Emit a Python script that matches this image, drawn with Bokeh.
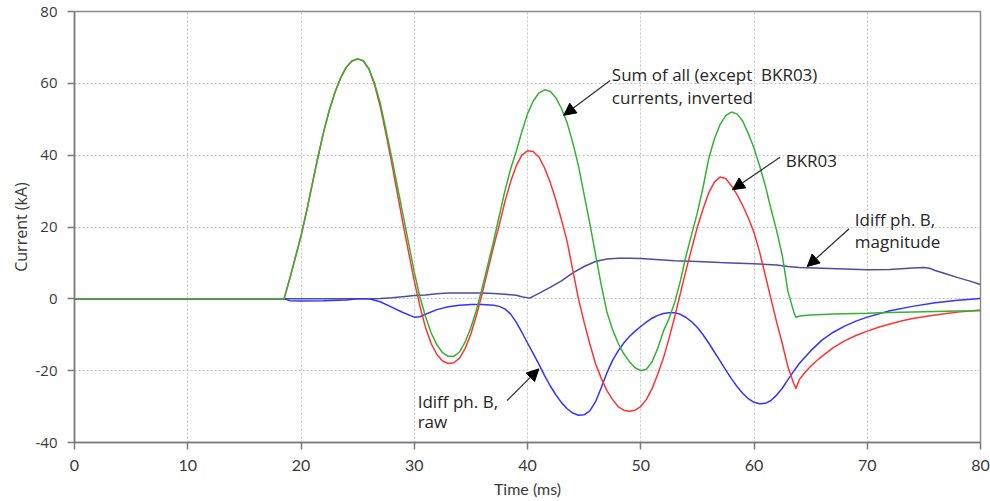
from bokeh.plotting import figure
from bokeh.models import Range1d, FixedTicker, Label, Arrow, NormalHead
from bokeh.embed import file_html
from bokeh.resources import INLINE

# ---- data ----
sum_t = [0, 18.5, 19, 19.5, 20, 20.5, 21, 21.5, 22, 22.5, 23, 23.5, 24, 24.5, 25, 25.5, 26, 26.5,
         27, 27.5, 28, 28.5, 29, 29.5, 30, 30.5, 31, 31.5, 32, 32.5, 33, 33.5, 34, 34.5, 35, 35.5,
         36, 36.5, 37, 37.5, 38, 38.5, 39, 39.5, 40, 40.5, 41, 41.5, 42, 42.5, 43, 43.5, 44, 44.5,
         45, 45.5, 46, 46.5, 47, 47.5, 48, 48.5, 49, 49.5, 50, 50.5, 51, 51.5, 52, 52.5, 53, 53.5,
         54, 54.5, 55, 55.5, 56, 56.5, 57, 57.5, 58, 58.5, 59, 59.5, 60, 60.5, 61, 61.5, 62, 62.5,
         63, 63.5, 63.7, 64, 65, 67, 70, 72, 75, 78, 80]
sum_i = [0, 0, 5.5, 11.5, 17.5, 24.5, 32, 39.5, 46.5, 52.5, 57.5, 61.5, 64.5, 66.2, 66.8, 66.3, 64, 60,
         54.5, 47, 39.5, 31.5, 23.5, 15.5, 7.5, 0.5, -5, -9.5, -12.8, -15, -16, -16, -14.8, -12, -8, -3,
         3, 9.5, 16, 23, 30, 36, 41, 46.5, 51.5, 55, 57.3, 58.2, 57.8, 56, 53, 49, 43.5, 37,
         29, 21, 12.5, 4, -3.5, -8.5, -12.3, -15.3, -17.5, -19.2, -20, -19.6, -17.5, -13.8, -9, -5.5, -1, 5,
         12, 18, 24, 31, 39, 44.5, 48.5, 51, 52, 51.5, 49.5, 46, 42, 37, 31.5, 25, 19, 12,
         2, -3.5, -5.2, -4.8, -4.5, -4.2, -4, -3.8, -3.6, -3.4, -3.3]

bkr_t = [0, 18.5, 19, 19.5, 20, 20.5, 21, 21.5, 22, 22.5, 23, 23.5, 24, 24.5, 25, 25.5, 26, 26.5,
         27, 27.5, 28, 28.5, 29, 29.5, 30, 30.5, 31, 31.5, 32, 32.5, 33, 33.5, 34, 34.5, 35, 35.5,
         36, 36.5, 37, 37.5, 38, 38.5, 39, 39.5, 40, 40.5, 41, 41.5, 42, 42.5, 43, 43.5, 44, 44.5,
         45, 45.5, 46, 46.5, 47, 47.5, 48, 48.5, 49, 49.5, 50, 50.5, 51, 51.5, 52, 52.5, 53, 53.5,
         54, 54.5, 55, 55.5, 56, 56.5, 57, 57.5, 58, 58.5, 59, 59.5, 60, 60.5, 61, 61.5, 62, 62.5,
         63, 63.5, 63.7, 64, 64.5, 65, 65.5, 66, 67, 68, 69, 70, 71, 72, 73, 74, 75, 76, 77, 78, 79, 80]
bkr_i = [0, 0, 5.5, 11.5, 17.5, 24.5, 32, 39.5, 46.5, 52.5, 57.5, 61.5, 64.5, 66.2, 66.8, 66.3, 64, 59.5,
         53.5, 46, 38, 29.5, 21, 13, 5, -2, -8, -12.5, -15.5, -17.3, -18, -17.8, -16.5, -13.8, -9.8, -4.5,
         1.5, 8, 14.5, 20.5, 27, 32.5, 37, 40, 41.2, 41, 39.5, 36.5, 32.5, 27.5, 22, 16, 8, 0,
         -6.5, -12.5, -18, -22, -25.5, -28, -30, -31, -31.3, -31, -30, -28, -25, -21, -16.5, -11, -5, 1.5,
         8, 14, 20, 25, 29.5, 32.5, 33.9, 33.5, 31.5, 29, 26, 22.5, 18.5, 13, 6.5, 0, -6.5, -12.5,
         -19, -23.5, -25, -22.5, -20.5, -18.8, -17.3, -16, -13.6, -11.7, -10.2, -9, -7.9, -7, -6.2, -5.5,
         -5, -4.5, -4.1, -3.7, -3.4, -3.1]

raw_t = [0, 18.5, 19, 20, 22, 24, 25, 26, 27, 28, 29, 30, 30.5, 31, 32, 33, 34, 35, 36, 37, 37.5,
         38, 38.5, 39, 39.5, 40, 40.5, 41, 41.5, 42, 42.5, 43, 43.5, 44, 44.5, 45, 45.5, 46, 46.5,
         47, 47.5, 48, 48.5, 49, 49.5, 50, 50.5, 51, 51.5, 52, 52.5, 53, 53.5, 54, 54.5, 55, 55.5,
         56, 56.5, 57, 57.5, 58, 58.5, 59, 59.5, 60, 60.5, 61, 61.5, 62, 62.5, 63, 63.5, 64, 65,
         66, 67, 68, 69, 70, 72, 74, 76, 78, 80]
raw_i = [0, 0, -0.5, -0.6, -0.5, -0.3, 0, 0, -0.8, -2.3, -3.8, -5.1, -5.0, -4.3, -3.0, -2.2, -1.8, -1.6,
         -1.6, -1.8, -2.1, -2.8, -4.2, -6.5, -9.3, -12.3, -15.2, -18.2, -21.3, -24.2, -26.7, -28.9, -30.6,
         -31.8, -32.4, -32.3, -31.2, -28.7, -24.8, -20.7, -17.2, -14.5, -12.3, -10.5, -9, -7.7, -6.5, -5.4,
         -4.6, -4.1, -3.9, -3.9, -4.3, -5.2, -6.4, -8, -10, -12.3, -14.8, -17.3, -19.8, -22.2, -24.4,
         -26.3, -27.8, -28.8, -29.2, -29.1, -28.3, -26.8, -24.9, -22.5, -20.2, -18, -14.5, -11.5, -9.3,
         -7.6, -6.2, -5.1, -3.3, -2.1, -1.1, -0.4, 0.1]

mag_t = [0, 26, 27, 28, 29, 30, 31, 32, 33, 34, 35, 36, 37, 38, 39, 39.5, 40.2, 41, 42, 43, 44, 45,
         46, 47, 48, 49, 50, 51, 52, 53, 55, 57, 58, 60, 62, 63, 64, 66, 68, 70, 72, 73, 74, 75, 75.5,
         76, 77, 78, 79, 80]
mag_i = [0, 0, 0.1, 0.3, 0.6, 0.9, 1.1, 1.4, 1.6, 1.6, 1.6, 1.6, 1.5, 1.3, 1.0, 0.6, 0.2, 1.5, 3.2,
         5.0, 7.2, 9.0, 10.4, 11.1, 11.3, 11.3, 11.2, 11.0, 10.8, 10.6, 10.4, 10.1, 10.0, 9.8, 9.4, 9.0,
         8.7, 8.5, 8.3, 8.1, 8.2, 8.4, 8.6, 8.7, 8.5, 7.9, 6.9, 5.9, 5.0, 4.0]

x_ticks = [0, 10, 20, 30, 40, 50, 60, 70, 80]
y_ticks = [-40, -20, 0, 20, 40, 60, 80]
y_tick_labels = {t: str(t) for t in y_ticks}

# ---- figure ----
p = figure(width=990, height=501, output_backend="svg", toolbar_location=None,
           x_range=Range1d(0, 80), y_range=Range1d(-40, 80),
           min_border_left=74, min_border_right=10, min_border_top=11, min_border_bottom=59)
p.background_fill_color = "white"
p.border_fill_color = "white"
p.outline_line_color = "#8a8a8a"
p.outline_line_width = 1.5

for ax in (p.xaxis[0], p.yaxis[0]):
    ax.axis_line_color = "#7a7a7a"
    ax.axis_line_width = 1.5
    ax.major_tick_line_color = "#7a7a7a"
    ax.major_tick_line_width = 1.5
    ax.major_tick_out = 7
    ax.major_tick_in = 0
    ax.minor_tick_line_color = None
    ax.major_label_text_color = "#3a3a3a"
    ax.axis_label_text_color = "#3a3a3a"
    ax.axis_label_text_font_style = "normal"

p.xaxis.ticker = FixedTicker(ticks=x_ticks)
p.yaxis.ticker = FixedTicker(ticks=y_ticks)
p.yaxis.major_label_overrides = y_tick_labels
p.xaxis.axis_label = "Time (ms)"
p.yaxis.axis_label = "Current (kA)"
p.xaxis.major_label_text_font = "Lato"
p.xaxis.major_label_text_font_size = "16px"
p.xaxis.axis_label_text_font = "Lato"
p.xaxis.axis_label_text_font_size = "16px"
p.yaxis.major_label_text_font = "Open Sans"
p.yaxis.major_label_text_font_size = "15px"
p.yaxis.axis_label_text_font = "Open Sans"
p.yaxis.axis_label_text_font_size = "16px"
p.xaxis.major_label_standoff = 10
p.xaxis.axis_label_standoff = 5
p.yaxis.major_label_standoff = 10
p.yaxis.axis_label_standoff = 1

for g in (p.xgrid[0], p.ygrid[0]):
    g.grid_line_color = "#c4c4c4"
    g.grid_line_dash = "2 2"
    g.grid_line_width = 1

# ---- series ----
p.line(mag_t, mag_i, line_color="#4b4ba8", line_width=1.5)
p.line(raw_t, raw_i, line_color="#3333ff", line_width=1.5)
p.line(bkr_t, bkr_i, line_color="#ff3333", line_width=1.5)
p.line(sum_t, sum_i, line_color="#33b233", line_width=1.5)

# ---- annotations ----
def txt(x, y, s):
    p.add_layout(Label(x=x, y=y, text=s, text_font="Open Sans", text_font_size="17px",
                       text_color="#262626", text_baseline="alphabetic", text_align="left"))

def arr(x0, y0, x1, y1):
    p.add_layout(Arrow(x_start=x0, y_start=y0, x_end=x1, y_end=y1,
                       line_color="#333333", line_width=1.3,
                       end=NormalHead(size=12, fill_color="black", line_color="black")))

txt(47.45, 62.4, "Sum of all (except\u00a0 BKR03)")
txt(47.45, 56.0, "currents, inverted")
arr(47.3, 60.8, 43.2, 51.1)

txt(62.8, 38.5, "BKR03")
arr(62.3, 39.4, 58.1, 30.4)

txt(68.9, 22.0, "Idiff ph. B,")
txt(68.9, 16.0, "magnitude")
arr(68.4, 19.5, 64.7, 9.0)

txt(30.3, -28.6, "Idiff ph. B,")
txt(30.3, -34.2, "raw")
arr(38.2, -28.3, 41.0, -19.5)

open("out.html", "w").write(file_html(p, INLINE))
